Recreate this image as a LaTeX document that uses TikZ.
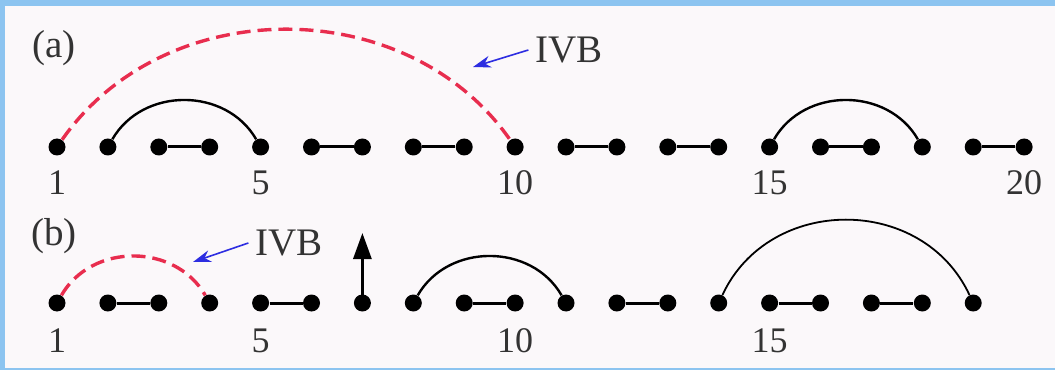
\documentclass[tikz,border=0pt]{standalone}
\usepackage{fontspec}
\setmainfont{Liberation Serif}
\usetikzlibrary{arrows.meta}
\definecolor{ivbred}{RGB}{232,45,78}
\definecolor{ivbblue}{RGB}{45,45,225}
\definecolor{frameblue}{RGB}{140,196,240}
\definecolor{paper}{RGB}{251,248,250}
\tikzset{
  site/.style={circle, fill=black, inner sep=0pt, minimum size=8.5pt},
  bond/.style={line width=1.5pt},
  pairarc/.style={line width=1.2pt},
  ivbarc/.style={draw=ivbred, line width=1.7pt, dash pattern=on 7pt off 3.5pt},
  ptr/.style={-{Stealth[length=9pt,width=6pt]}, draw=ivbblue, line width=0.8pt},
  spin/.style={-{Triangle[length=13pt,width=9pt]}, line width=1.5pt},
  num/.style={font=\fontsize{18}{20}\selectfont, text=black!80},
  tag/.style={font=\fontsize{19.5}{22}\selectfont, text=black!80},
}
\begin{document}
\begin{tikzpicture}[x=0.5pt, y=0.5pt]
  \useasboundingbox (0,0) rectangle (1055,370);
  \fill[frameblue] (0,0) rectangle (1055,370);
  \fill[paper] (5,2) rectangle (1055,364);

  % chain (a)
  \foreach \i in {1,...,20}
    \node[site] (a\i) at ({57+(\i-1)*50.9},223) {};
  \foreach \i in {1,5,10,15,20}
    \node[num] (na\i) at ([yshift=-18pt]a\i.center) {\i};
  \foreach \p/\q in {3/4,6/7,8/9,11/12,13/14,16/17,19/20}
    \draw[bond] (a\p) -- (a\q);
  \draw[pairarc] (a2) to[bend left=60, looseness=1.08] (a5);
  \draw[pairarc] (a15) to[bend left=60, looseness=1.08] (a18);
  \draw[ivbarc] (a1) to[bend left=55, looseness=1.03] (a10);
  \node[tag] (pa) at (54,322) {(a)};
  \node[tag] (ivba) at (569,320) {IVB};
  \coordinate (ptra) at (473,303);
  \draw[ptr] (ivba.west) -- (ptra);

  % chain (b)
  \foreach \i in {1,...,19}
    \node[site] (b\i) at ({57+(\i-1)*50.9},67) {};
  \foreach \i in {1,5,10,15}
    \node[num] (nb\i) at ([yshift=-19pt]b\i.center) {\i};
  \foreach \p/\q in {2/3,5/6,9/10,12/13,15/16,17/18}
    \draw[bond] (b\p) -- (b\q);
  \draw[pairarc] (b8) to[bend left=60, looseness=1.08] (b11);
  \draw[line width=0.9pt] (b14) to[bend left=65, looseness=1.15] (b19);
  \draw[ivbarc] (b1) to[bend left=60, looseness=1.08] (b4);
  \coordinate (upb7) at (b7 |- 0,137);
  \draw[spin] (b7.center) -- (upb7);
  \node[tag] (pb) at (54,134) {(b)};
  \node[tag] (ivbb) at (289,127) {IVB};
  \coordinate (ptrb) at (193,108);
  \draw[ptr] (ivbb.west) -- (ptrb);
\end{tikzpicture}
\end{document}
